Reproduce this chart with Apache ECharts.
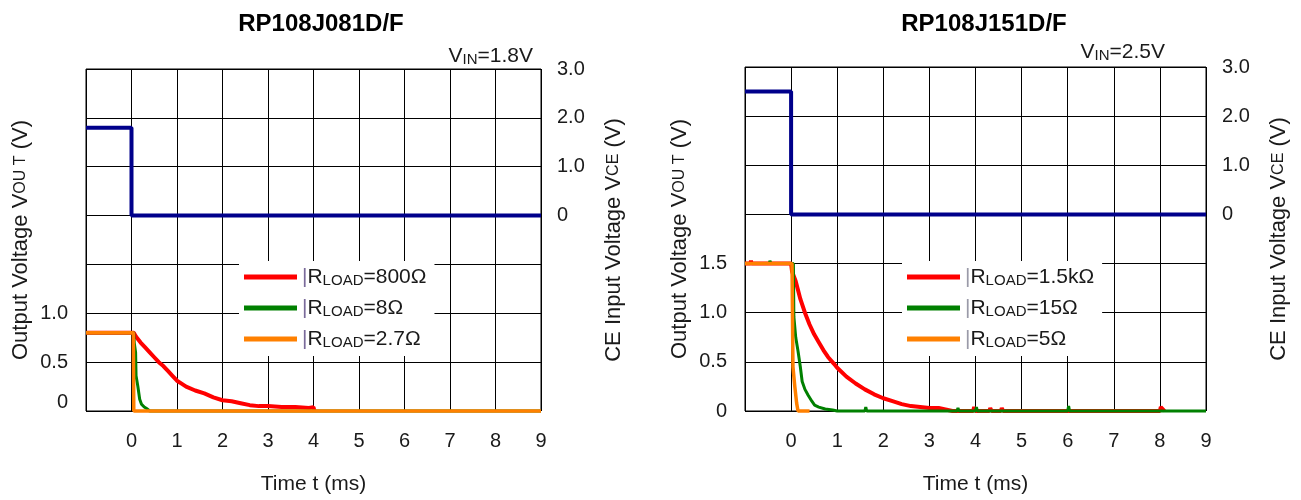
<!DOCTYPE html>
<html><head><meta charset="utf-8">
<script src="https://cdn.jsdelivr.net/npm/echarts@6/dist/echarts.min.js"></script>
<style>html,body{margin:0;padding:0;background:#fff}#c{width:1301px;height:500px}</style>
</head><body><div id="c"></div>
<script>
const FONT = "'Liberation Sans', Arial, sans-serif";
const TXT = '#1a1a1a';

// ---- text / tick data ----
const titles = ['RP108J081D/F', 'RP108J151D/F'];
const vinValues = ['1.8V', '2.5V'];
const xTickValues = [0, 1, 2, 3, 4, 5, 6, 7, 8, 9];
const voutTicksLeft = [0, 0.5, 1.0];
const voutTicksRight = [0, 0.5, 1.0, 1.5];
const vceTicks = [0, 1, 2, 3];
const legendLeft = ['RLOAD=800Ω', 'RLOAD=8Ω', 'RLOAD=2.7Ω'];
const legendRight = ['RLOAD=1.5kΩ', 'RLOAD=15Ω', 'RLOAD=5Ω'];

// ---- series data: [time ms, voltage V] ----
const vceLeft = [[-1, 1.8], [0, 1.8], [0, 0], [9, 0]];
const r800 = [[-1,0.8],[0.05,0.8],[0.1,0.76],[0.2,0.70],[0.3,0.65],[0.4,0.60],[0.5,0.55],[0.6,0.50],[0.7,0.46],[0.8,0.41],[0.9,0.36],[1.0,0.31],[1.1,0.28],[1.2,0.25],[1.4,0.21],[1.6,0.18],[1.8,0.14],[2.0,0.11],[2.2,0.10],[2.4,0.08],[2.6,0.06],[2.8,0.05],[3.0,0.05],[3.3,0.04],[3.6,0.04],[3.9,0.03],[4.0,0.04],[4.02,0]];
const r8 = [[-1,0.8],[0.05,0.8],[0.06,0.70],[0.09,0.60],[0.1,0.36],[0.14,0.25],[0.18,0.12],[0.22,0.07],[0.28,0.04],[0.35,0.02],[0.4,0],[9,0]];
const r27 = [[-1,0.8],[0.04,0.8],[0.05,0],[9,0]];

const vceRight = [[-1, 2.5], [0, 2.5], [0, 0], [9, 0]];
const r1k5 = [[-1,1.5],[-0.88,1.5],[-0.87,1.53],[-0.86,1.5],[0,1.5],[0.02,1.42],[0.1,1.32],[0.2,1.14],[0.3,1.0],[0.4,0.88],[0.5,0.78],[0.6,0.70],[0.7,0.62],[0.8,0.55],[0.93,0.48],[1.0,0.44],[1.2,0.35],[1.4,0.28],[1.6,0.22],[1.8,0.17],[2.0,0.13],[2.2,0.10],[2.4,0.07],[2.6,0.05],[2.8,0.04],[3.0,0.03],[3.2,0.03],[3.4,0.01],[3.5,0],[3.95,0],[3.97,0.04],[4.0,0],[4.3,0],[4.32,0.03],[4.35,0],[4.55,0],[4.57,0.03],[4.6,0],[8.0,0],[8.02,0.04],[8.06,0.04],[8.1,0]];
const r15 = [[-1,1.5],[-0.47,1.5],[-0.46,1.53],[-0.44,1.5],[0.05,1.5],[0.06,0.96],[0.1,0.75],[0.15,0.61],[0.2,0.45],[0.24,0.30],[0.3,0.22],[0.37,0.16],[0.45,0.10],[0.51,0.06],[0.6,0.04],[0.74,0.02],[0.9,0.01],[1.0,0],[1.6,0],[1.62,0.04],[1.64,0],[3.6,0],[3.62,0.03],[3.64,0],[4.0,0],[4.02,0.04],[4.04,0],[6.0,0],[6.02,0.05],[6.04,0],[9,0]];
const r5 = [[-1,1.5],[0.02,1.5],[0.04,0.45],[0.08,0.25],[0.12,0.08],[0.15,0],[0.4,0]];

const C_VCE = '#00008b', C_RED = '#ff0000', C_GREEN = '#008000', C_ORANGE = '#ff8000';

function fmtNum(v) { return v === 0 ? '0' : v.toFixed(1); }
function has(arr, v) { return arr.some(a => Math.abs(a - v) < 1e-9); }

function xAxis(gi) {
  return {
    gridIndex: gi, type: 'value', min: -1, max: 9, interval: 1,
    axisLine: { show: false }, axisTick: { show: false },
    splitLine: { show: true, lineStyle: { color: '#000', width: 1 } },
    axisLabel: { fontSize: 20, fontFamily: FONT, color: TXT, margin: 20,
      formatter: v => has(xTickValues, v) ? String(v) : '' },
    name: 'Time t (ms)', nameLocation: 'middle', nameGap: 63,
    nameTextStyle: { fontSize: 21, fontFamily: FONT, color: TXT }
  };
}
function voutAxis(gi, ticks, raiseZero) {
  return {
    gridIndex: gi, type: 'value', position: 'left', min: 0, max: 3.5, interval: 0.5,
    axisLine: { show: false }, axisTick: { show: false },
    splitLine: { show: true, lineStyle: { color: '#000', width: 1 } },
    axisLabel: { fontSize: 20, fontFamily: FONT, color: TXT, margin: 18,
      formatter: v => has(ticks, v) ? (v === 0 && raiseZero ? '{z|0}' : fmtNum(v)) : '',
      rich: { z: { fontSize: 20, fontFamily: FONT, color: TXT, padding: [0, 0, 18, 0] } } },
    name: 'Output Voltage V{s|OU T} (V)', nameLocation: 'middle', nameRotate: 90, nameGap: 54,
    nameTextStyle: { fontSize: 22, fontFamily: FONT, color: TXT,
      rich: { s: { fontSize: 16, fontFamily: FONT, color: TXT } } }
  };
}
function vceAxis(gi) {
  return {
    gridIndex: gi, type: 'value', position: 'right', min: -4, max: 3, interval: 1,
    axisLine: { show: false }, axisTick: { show: false }, splitLine: { show: false },
    axisLabel: { fontSize: 20, fontFamily: FONT, color: TXT, margin: 16,
      formatter: v => has(vceTicks, v) ? fmtNum(v) : '' },
    name: 'CE Input Voltage V{s|CE} (V)', nameLocation: 'middle', nameRotate: 90, nameGap: 62,
    nameTextStyle: { fontSize: 22, fontFamily: FONT, color: TXT,
      rich: { s: { fontSize: 16, fontFamily: FONT, color: TXT } } }
  };
}
function line(name, data, color, xi, yi, w) {
  return { type: 'line', name, data, xAxisIndex: xi, yAxisIndex: yi, symbol: 'none', showSymbol: false,
    lineStyle: { color, width: w }, itemStyle: { color }, clip: false, animation: false,
    emphasis: { disabled: true }, z: 3 };
}
function legend(names, left, top, barColor) {
  return {
    data: names, orient: 'vertical', left, top, icon: 'rect', itemWidth: 53, itemHeight: 5,
    itemGap: 10, padding: [6, 8, 6, 5], backgroundColor: '#fff', selectedMode: false,
    formatter: n => '{bar||}{r|R}{s|LOAD}{r|=' + n.split('=')[1] + '}',
    textStyle: { fontFamily: FONT, color: TXT, fontSize: 21,
      rich: {
        bar: { fontSize: 21, lineHeight: 22, color: barColor, fontFamily: FONT, verticalAlign: 'bottom' },
        r: { fontSize: 21, lineHeight: 22, color: TXT, fontFamily: FONT, verticalAlign: 'bottom' },
        s: { fontSize: 15, lineHeight: 21, color: TXT, fontFamily: FONT, verticalAlign: 'bottom' }
      } }
  };
}
function vinText(x, y, val) {
  return { type: 'text', x, y, z: 10, style: {
    text: '{v|V}{s|IN}{v|=' + val + '}', align: 'right', verticalAlign: 'middle',
    rich: { v: { fontSize: 21, lineHeight: 22, fontFamily: FONT, fill: TXT, verticalAlign: 'bottom' },
            s: { fontSize: 15, lineHeight: 21, fontFamily: FONT, fill: TXT, verticalAlign: 'bottom' } } } };
}
function titleText(x, y, t) {
  return { type: 'text', x, y, z: 10, style: { text: t, font: 'bold 24px ' + FONT, fill: '#000',
    align: 'center', verticalAlign: 'middle' } };
}

const chart = echarts.init(document.getElementById('c'), null, { renderer: 'canvas' });
chart.setOption({
  animation: false,
  backgroundColor: '#fff',
  grid: [
    { left: 86, right: 1301 - 541, top: 69, bottom: 500 - 411, show: true, borderColor: '#000', borderWidth: 1 },
    { left: 745, right: 1301 - 1206, top: 67, bottom: 500 - 413, show: true, borderColor: '#000', borderWidth: 1 }
  ],
  xAxis: [xAxis(0), xAxis(1)],
  yAxis: [voutAxis(0, voutTicksLeft, true), vceAxis(0), voutAxis(1, voutTicksRight, false), vceAxis(1)],
  legend: [legend(legendLeft, 239, 261, '#7a6a9a'), legend(legendRight, 902, 261, '#9a9aa8')],
  graphic: [
    titleText(321, 24, titles[0]), titleText(984, 24, titles[1]),
    vinText(533, 56, vinValues[0]), vinText(1165, 52, vinValues[1])
  ],
  series: [
    line('VCE1', vceLeft, C_VCE, 0, 1, 4),
    line(legendLeft[0], r800, C_RED, 0, 0, 4),
    line(legendLeft[1], r8, C_GREEN, 0, 0, 3),
    line(legendLeft[2], r27, C_ORANGE, 0, 0, 3.5),
    line('VCE2', vceRight, C_VCE, 1, 3, 4),
    line(legendRight[0], r1k5, C_RED, 1, 2, 4),
    line(legendRight[1], r15, C_GREEN, 1, 2, 3),
    line(legendRight[2], r5, C_ORANGE, 1, 2, 3.5)
  ]
});
</script></body></html>
